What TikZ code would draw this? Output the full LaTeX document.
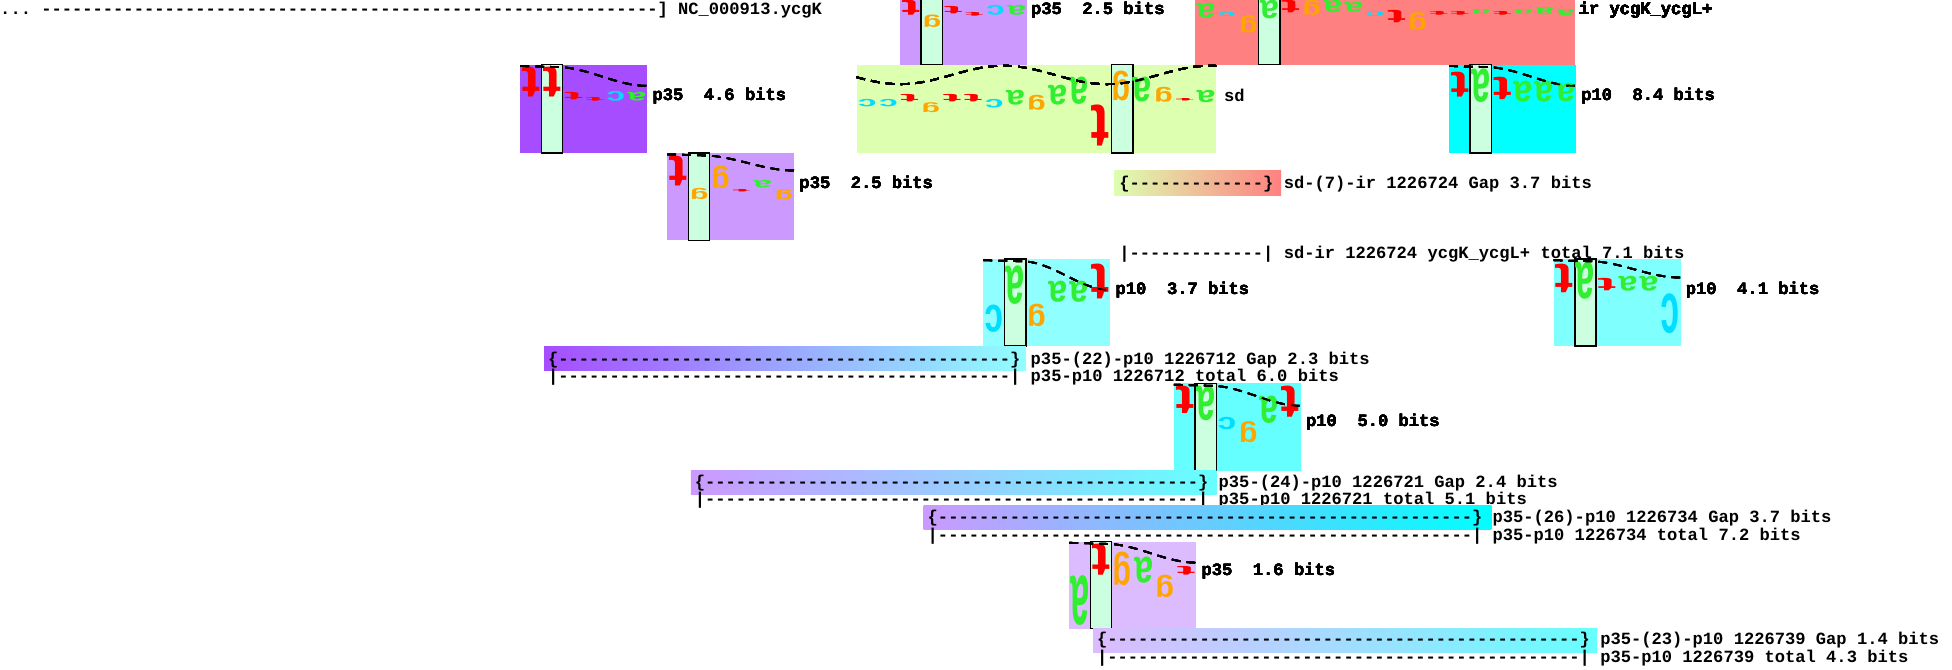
\documentclass[tikz,border=0pt]{standalone}
\usepackage{fontspec}
\setmonofont{Liberation Mono}
\setsansfont{Liberation Sans}
\usepackage{graphicx}

\definecolor{nA}{HTML}{30EE30}
\definecolor{nC}{HTML}{00DDFF}
\definecolor{nG}{HTML}{FFA500}
\definecolor{nT}{HTML}{FF0000}
\definecolor{pdeep}{HTML}{A64DFF}
\definecolor{plav}{HTML}{CC99FF}
\definecolor{plight}{HTML}{DDBBFF}
\definecolor{sdcol}{HTML}{DDFFB0}
\definecolor{ircol}{HTML}{FF8080}
\definecolor{cyA}{HTML}{00FFFF}
\definecolor{cyB}{HTML}{66FFFF}
\definecolor{cyC}{HTML}{80FFFF}
\definecolor{cyD}{HTML}{90FFFF}
\definecolor{zerocol}{HTML}{CCFFE0}
\definecolor{blueA}{HTML}{5A5AFF}
\definecolor{blueB}{HTML}{6B6BFF}
\definecolor{blueC}{HTML}{5A66FF}
\definecolor{blueD}{HTML}{A0A8FF}
\definecolor{yel}{HTML}{FFFFA0}

\newcommand{\base}[6]{\node[inner sep=0pt, anchor=north west, text=#4] (#6) at ({#1},{#2})
  {\rotatebox{180}{\resizebox*{15pt}{#3pt}{\sffamily\bfseries #5}}};}
\newcommand{\dashrun}[1]{\foreach \k in {1,...,#1}{-}}
\newcommand{\tailcurve}[3]{\draw[walkline] (#1,#2) -- ({#1+34},{#2+1})
  .. controls ({#1+58},{#2+3}) and ({#1+78},{#2+#3}) .. ({#1+102},{#2+#3});}

\begin{document}
\begin{tikzpicture}[x=1pt,y=-1pt,
  lbl/.style={anchor=west, inner sep=0pt, font=\fontsize{13.75}{16}\selectfont\ttfamily\bfseries},
  zero/.style={fill=zerocol, draw=black, line width=1.2pt},
  walkline/.style={black, dashed, dash pattern=on 7pt off 5pt, line width=1.4pt}]
\useasboundingbox (0,0) rectangle (1568,537.4);

\node[lbl] (nc) at (0,8) {...~\dashrun{60}]~NC\_000913.ycgK};

\fill[plav] (723,-18) rectangle (825,52);
\draw[zero] (740,-18) rectangle (757,52);
\foreach \pos/\yy/\hh/\clr/\ch in {0/0/12/nT/t, 1/12/10/nG/g, 2/5/6/nT/t, 3/10/3/nT/t, 4/4/8/nC/c, 5/4/8/nA/a}
  \base{723+17*\pos+1}{\yy}{\hh}{\clr}{\ch}{wa\pos}
\node[lbl] (pa) at (828,8) {p35~~2.5~bits};

\fill[ircol] (960,-18) rectangle (1265,52);
\draw[zero] (1011,-18) rectangle (1028,52);
\foreach \pos/\yy/\hh/\clr/\ch in {0/2/12/nA/a, 1/10/3/nC/c, 2/12/14/nG/g, 3/0/15/nA/a, 4/0/10/nT/t, 5/0/12/nG/g,
  6/0/10/nA/a, 7/2/8/nA/a, 8/9/4/nC/c, 9/8/10/nT/t, 10/10/14/nG/g, 11/9/3/nT/t, 12/9/3/nT/t,
  13/7/4/nA/a, 14/9/3/nT/t, 15/7/4/nA/a, 16/6/6/nA/a, 17/7/5/nA/a}
  \base{960+17*\pos+1}{\yy}{\hh}{\clr}{\ch}{wi\pos}
\node[lbl] (ir) at (1268,8) {ir~ycgK\_ycgL+};

\fill[pdeep] (418,52) rectangle (520,123);
\draw[zero] (435,52) rectangle (452,123);
\foreach \pos/\yy/\hh/\clr/\ch in {0/54/24/nT/t, 1/54/24/nT/t, 2/74/6/nT/t, 3/78/3/nT/t, 4/73/8/nC/c, 5/74/7/nA/a}
  \base{418+17*\pos+1}{\yy}{\hh}{\clr}{\ch}{wb\pos}
\tailcurve{418}{53}{16}
\node[lbl] (pb) at (524,77) {p35~~4.6~bits};

\fill[sdcol] (688,52) rectangle (977,123);
\draw[zero] (893,52) rectangle (910,123);
\foreach \pos/\yy/\hh/\clr/\ch in {0/80/6/nC/c, 1/80/6/nC/c, 2/76/6/nT/t, 3/82/8/nG/g, 4/76/6/nT/t, 5/76/6/nT/t,
  6/80/7/nC/c, 7/72/12/nA/a, 8/76/12/nG/g, 9/68/16/nA/a, 10/62/22/nA/a, 11/84/33/nT/t,
  12/57/24/nG/g, 13/62/20/nA/a, 14/70/12/nG/g, 15/79/2/nT/t, 16/72/10/nA/a}
  \base{688+17*\pos+1}{\yy}{\hh}{\clr}{\ch}{ws\pos}
\draw[walkline] plot[domain=688:977, samples=80] (\x, {60.2+7.4*cos(2.1687*(\x-723))});
\node[lbl] (sd) at (983,77) {sd};

\fill[cyA] (1164,52) rectangle (1266,123);
\draw[zero] (1181,52) rectangle (1198,123);
\foreach \pos/\yy/\hh/\clr/\ch in {0/58/20/nT/t, 1/55/27/nA/a, 2/62/18/nT/t, 3/65/17/nA/a, 4/65/17/nA/a, 5/67/15/nA/a}
  \base{1164+17*\pos+1}{\yy}{\hh}{\clr}{\ch}{wc\pos}
\tailcurve{1164}{53}{16}
\node[lbl] (pc) at (1270,77) {p10~~8.4~bits};

\fill[plav] (536,123) rectangle (638,193);
\draw[zero] (553,123) rectangle (570,193);
\foreach \pos/\yy/\hh/\clr/\ch in {0/125/24/nT/t, 1/151/9/nG/g, 2/133/18/nG/g, 3/152/2/nT/t, 4/145/6/nA/a, 5/152/8/nG/g}
  \base{536+17*\pos+1}{\yy}{\hh}{\clr}{\ch}{wd\pos}
\tailcurve{536}{124}{13}
\node[lbl] (pd) at (642,148) {p35~~2.5~bits};

\shade[left color=sdcol, middle color=yel, right color=ircol] (895,137) rectangle (1029,157);
\node[lbl] (gapa) at (899,148) {\{\dashrun{13}\}~sd-(7)-ir~1226724~Gap~3.7~bits};
\node[lbl] (tota) at (899,204) {|\dashrun{13}|~sd-ir~1226724~ycgK\_ycgL+~total~7.1~bits};

\fill[cyD] (790,208) rectangle (892,278);
\draw[zero] (807,208) rectangle (824,278);
\foreach \pos/\yy/\hh/\clr/\ch in {0/245/22/nC/c, 1/213/31/nA/a, 2/244/18/nG/g, 3/226/17/nA/a, 4/226/17/nA/a, 5/212/28/nT/t}
  \base{790+17*\pos+1}{\yy}{\hh}{\clr}{\ch}{we\pos}
\tailcurve{790}{209}{24}
\node[lbl] (pe) at (896,233) {p10~~3.7~bits};

\fill[cyC] (1248,208) rectangle (1350,278);
\draw[zero] (1265,208) rectangle (1282,278);
\foreach \pos/\yy/\hh/\clr/\ch in {0/212/23/nT/t, 1/210/30/nA/a, 2/223/10/nT/t, 3/222/12/nA/a, 4/222/12/nA/a, 5/236/32/nC/c}
  \base{1248+17*\pos+1}{\yy}{\hh}{\clr}{\ch}{wf\pos}
\tailcurve{1248}{209}{14}
\node[lbl] (pf) at (1354,233) {p10~~4.1~bits};

\shade[left color=pdeep, middle color=blueA, right color=cyD] (437,278) rectangle (824,298);
\node[lbl] (gapb) at (440,289) {\{\dashrun{44}\}~p35-(22)-p10~1226712~Gap~2.3~bits};
\node[lbl] (totb) at (440,303) {|\dashrun{44}|~p35-p10~1226712~total~6.0~bits};

\fill[cyB] (943,308) rectangle (1045,378);
\draw[zero] (960,308) rectangle (977,378);
\foreach \pos/\yy/\hh/\clr/\ch in {0/310/22/nT/t, 1/310/28/nA/a, 2/335/10/nC/c, 3/338/17/nG/g, 4/318/22/nA/a, 5/310/25/nT/t}
  \base{943+17*\pos+1}{\yy}{\hh}{\clr}{\ch}{wg\pos}
\tailcurve{943}{309}{17}
\node[lbl] (pg) at (1049,339) {p10~~5.0~bits};

\shade[left color=plav, middle color=blueB, right color=cyB] (555,378) rectangle (977,397);
\node[lbl] (gapc) at (558,388) {\{\dashrun{48}\}~p35-(24)-p10~1226721~Gap~2.4~bits};
\node[lbl] (totc) at (558,402) {|\dashrun{48}|~p35-p10~1226721~total~5.1~bits};

\shade[left color=plav, middle color=blueC, right color=cyA] (742,406) rectangle (1198,425);
\node[lbl] (gapd) at (745,416) {\{\dashrun{52}\}~p35-(26)-p10~1226734~Gap~3.7~bits};
\node[lbl] (totd) at (745,431) {|\dashrun{52}|~p35-p10~1226734~total~7.2~bits};

\fill[plight] (859,435) rectangle (961,505);
\draw[zero] (876,435) rectangle (893,505);
\foreach \pos/\yy/\hh/\clr/\ch in {0/462/40/nA/a, 1/437/25/nT/t, 2/443/27/nG/g, 3/447/21/nA/a, 4/462/18/nG/g, 5/455/7/nT/t}
  \base{859+17*\pos+1}{\yy}{\hh}{\clr}{\ch}{wh\pos}
\tailcurve{859}{436}{16}
\node[lbl] (ph) at (965,459) {p35~~1.6~bits};

\shade[left color=plight, middle color=blueD, right color=cyB] (878,505) rectangle (1283,524);
\node[lbl] (gape) at (881,514) {\{\dashrun{46}\}~p35-(23)-p10~1226739~Gap~1.4~bits};
\node[lbl] (tote) at (881,529) {|\dashrun{46}|~p35-p10~1226739~total~4.3~bits};
\end{tikzpicture}
\end{document}
